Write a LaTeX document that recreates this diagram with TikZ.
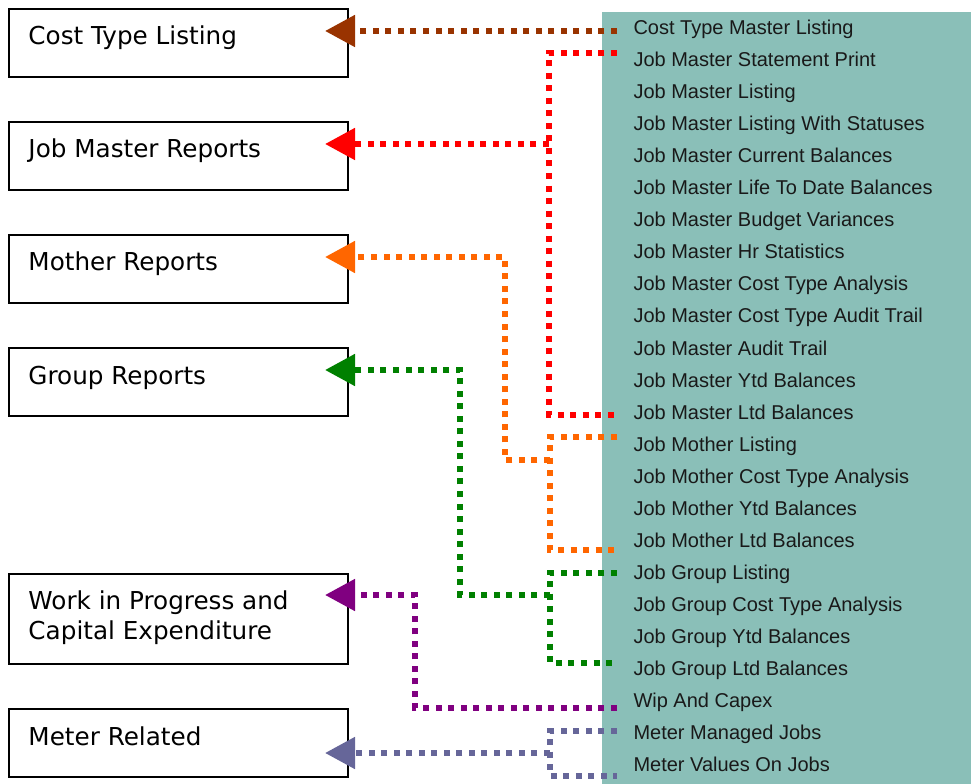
\documentclass[tikz,border=0pt]{standalone}
\usepackage{fontspec}
\setmainfont{DejaVu Sans}
\newfontfamily\listfont{Liberation Sans}
\usetikzlibrary{arrows.meta}
\definecolor{listteal}{RGB}{138,191,184}
\definecolor{costbrown}{RGB}{153,51,0}
\definecolor{masterred}{RGB}{255,0,0}
\definecolor{motherorange}{RGB}{255,102,0}
\definecolor{groupgreen}{RGB}{0,128,0}
\definecolor{wippurple}{RGB}{128,0,128}
\definecolor{meterblue}{RGB}{102,102,153}
\tikzset{every picture/.style={line width=0.75pt}}
\tikzset{
  reportbox/.style={draw, line width=1.5pt, anchor=north west, inner sep=0pt, minimum width=254pt, minimum height=51pt},
  boxtext/.style={anchor=base west, inner sep=0pt, align=left, font=\fontsize{18.5}{22}\selectfont},
  listitem/.style={anchor=base west, inner sep=0pt, text=black!90, font=\listfont\fontsize{15}{18}\selectfont},
  dotlink/.style={line width=4.5pt, dash pattern=on 4.5pt off 4.9pt},
  tipto/.style={-{Triangle[length=22.5pt,width=23pt]}}
}

\begin{document}
\begin{tikzpicture}[x=0.75pt,y=0.75pt,yscale=-1,xscale=1]
	\useasboundingbox (0,0) rectangle (971,784);

	%Shape: Rectangle [list panel]
	\fill[listteal] (602,12) rectangle (971,784);

	% Text Node (list of reports)
	\foreach \i/\txt in {1/Cost Type Master Listing, 2/Job Master Statement Print, 3/Job Master Listing,
		4/Job Master Listing With Statuses, 5/Job Master Current Balances, 6/Job Master Life To Date Balances,
		7/Job Master Budget Variances, 8/Job Master Hr Statistics, 9/Job Master Cost Type Analysis,
		10/Job Master Cost Type Audit Trail, 11/Job Master Audit Trail, 12/Job Master Ytd Balances,
		13/Job Master Ltd Balances, 14/Job Mother Listing, 15/Job Mother Cost Type Analysis,
		16/Job Mother Ytd Balances, 17/Job Mother Ltd Balances, 18/Job Group Listing,
		19/Job Group Cost Type Analysis, 20/Job Group Ytd Balances, 21/Job Group Ltd Balances,
		22/Wip And Capex, 23/Meter Managed Jobs, 24/Meter Values On Jobs}
		\node[listitem] (item\i) at (633,{35+32*(\i-1)}) {\txt};

	%Shape: Rectangle [report boxes]
	\node[reportbox] (costbox) at (8,8) {};
	\node[reportbox] (masterbox) at (8,121) {};
	\node[reportbox] (motherbox) at (8,234) {};
	\node[reportbox] (groupbox) at (8,347) {};
	\node[reportbox, minimum height=67.5pt] (wipbox) at (8,573) {};
	\node[reportbox] (meterbox) at (8,708) {};

	% Text Node
	\node[boxtext] (costtxt) at (28,45) {Cost Type Listing};
	\node[boxtext] (mastertxt) at (28,158) {Job Master Reports};
	\node[boxtext] (mothertxt) at (28,271) {Mother Reports};
	\node[boxtext] (grouptxt) at (28,384) {Group Reports};
	\node[boxtext] (wiptxt) at (28,639) {Work in Progress and\\Capital Expenditure};
	\node[boxtext] (metertxt) at (28,745) {Meter Related};

	% taps, joins and tips
	\coordinate (costtap) at (617,31);     \coordinate (costtip) at (325,31);
	\coordinate (mastertapa) at (617,53);  \coordinate (mastertapb) at (617,415);
	\coordinate (masterjoin) at (549,144); \coordinate (mastertip) at (325,144);
	\coordinate (mothertapa) at (617,437); \coordinate (mothertapb) at (617,550);
	\coordinate (motherjoin) at (550,460); \coordinate (motherbend) at (505,257);
	\coordinate (mothertip) at (325,257);
	\coordinate (grouptapa) at (617,573);  \coordinate (grouptapb) at (617,663);
	\coordinate (groupjoin) at (550,595);  \coordinate (groupbend) at (460,370);
	\coordinate (grouptip) at (325,370);
	\coordinate (wiptap) at (617,708);     \coordinate (wipbend) at (415,595);
	\coordinate (wiptip) at (325,595);
	\coordinate (metertapa) at (617,731);  \coordinate (metertapb) at (617,776);
	\coordinate (meterjoin) at (550,753);  \coordinate (metertip) at (325,753);

	%Straight Lines [cost type]
	\draw[dotlink, costbrown, tipto] (costtap) -- (costtip);
	%Straight Lines [job master]
	\draw[dotlink, masterred] (mastertapa) -| (masterjoin) |- (mastertapb);
	\draw[dotlink, masterred, tipto] (masterjoin) -- (mastertip);
	%Straight Lines [mother]
	\draw[dotlink, motherorange] (mothertapa) -| (motherjoin) |- (mothertapb);
	\draw[dotlink, motherorange, tipto] (motherjoin) -| (motherbend) -- (mothertip);
	%Straight Lines [group]
	\draw[dotlink, groupgreen] (grouptapa) -| (groupjoin) |- (grouptapb);
	\draw[dotlink, groupgreen, tipto] (groupjoin) -| (groupbend) -- (grouptip);
	%Straight Lines [wip]
	\draw[dotlink, wippurple, tipto] (wiptap) -| (wipbend) -- (wiptip);
	%Straight Lines [meter]
	\draw[dotlink, meterblue] (metertapa) -| (meterjoin) |- (metertapb);
	\draw[dotlink, meterblue, tipto] (meterjoin) -- (metertip);

\end{tikzpicture}
\end{document}
